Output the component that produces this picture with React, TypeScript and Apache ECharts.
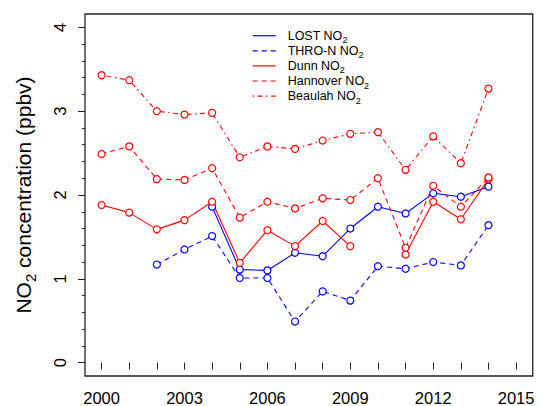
import React, { useEffect, useRef } from "react";
import * as echarts from "echarts";

const years = [2000, 2001, 2002, 2003, 2004, 2005, 2006, 2007, 2008, 2009, 2010, 2011, 2012, 2013, 2014];
const lost = [null, null, null, null, 1.86, 1.11, 1.10, 1.31, 1.27, 1.60, 1.86, 1.78, 2.02, 1.98, 2.10];
const thron = [null, null, 1.17, 1.35, 1.51, 1.01, 1.01, 0.49, 0.85, 0.74, 1.15, 1.12, 1.20, 1.16, 1.64];
const dunn = [1.88, 1.79, 1.59, 1.70, 1.92, 1.19, 1.58, 1.39, 1.69, 1.39, null, 1.29, 1.92, 1.71, 2.19];
const hannover = [2.49, 2.58, 2.19, 2.18, 2.32, 1.73, 1.92, 1.84, 1.96, 1.94, 2.20, 1.37, 2.11, 1.86, 2.21];
const beaulah = [3.43, 3.37, 3.00, 2.96, 2.98, 2.45, 2.58, 2.55, 2.65, 2.73, 2.75, 2.30, 2.70, 2.38, 3.27];

const seriesNames = ["LOST", "THRO-N", "Dunn", "Hannover", "Beaulah"];
const seriesValues = [lost, thron, dunn, hannover, beaulah];
const seriesColors = ["#0000ff", "#0000ff", "#ff0000", "#ff0000", "#ff0000"];
const dashed = [5, 4];
const dotDash = [1.5, 3.5, 5, 3.5];
const seriesDash: any[] = ["solid", dashed, "solid", dashed, dotDash];

const xTicks = [2000, 2001, 2002, 2003, 2004, 2005, 2006, 2007, 2008, 2009, 2010, 2011, 2012, 2013, 2014, 2015];
const xLabels = [2000, 2003, 2006, 2009, 2012, 2015];
const yTicks = [0, 1, 2, 3, 4];
const yMinorTicks = [0, 0.2, 0.4, 0.6, 0.8, 1, 1.2, 1.4, 1.6, 1.8, 2, 2.2, 2.4, 2.6, 2.8, 3, 3.2, 3.4, 3.6, 3.8, 4];

const FONT = "'Liberation Sans', Arial, Helvetica, sans-serif";

export default function App() {
  const ref = useRef<HTMLDivElement>(null);
  useEffect(() => {
    if (!ref.current) return;
    const chart = echarts.init(ref.current, null, { renderer: "svg" });

    const legendX1 = 252.7;
    const legendX2 = 275.7;
    const legendTextX = 287.7;
    const legendY0 = 35.7;
    const legendStep = 15.1;
    const legendGraphics: any[] = [];
    seriesNames.forEach((name, i) => {
      const y = legendY0 + i * legendStep;
      const dash = seriesDash[i];
      legendGraphics.push({
        type: "line",
        shape: { x1: legendX1, y1: y, x2: legendX2, y2: y },
        style: {
          stroke: seriesColors[i],
          lineWidth: 1.2,
          lineDash: Array.isArray(dash) ? dash : null,
        },
      });
      legendGraphics.push({
        type: "text",
        x: legendTextX,
        y: y,
        style: {
          text: name + " NO{sub|2}",
          fill: "#000",
          fontSize: 12.5,
          fontFamily: FONT,
          align: "left",
          verticalAlign: "middle",
          lineHeight: 18,
          rich: {
            sub: { fontSize: 9, lineHeight: 9, verticalAlign: "bottom", fontFamily: FONT, fill: "#000" },
          },
        },
      });
    });

    const option: any = {
      animation: false,
      backgroundColor: "#fff",
      grid: {
        left: 82.5,
        top: 14,
        right: 5.3,
        bottom: 28.7,
        show: true,
        borderColor: "#222",
        borderWidth: 1.3,
        backgroundColor: "transparent",
      },
      xAxis: {
        type: "value",
        min: 1999.4,
        max: 2015.6,
        axisLine: { show: false },
        splitLine: { show: false },
        axisTick: {
          show: true,
          length: 7,
          customValues: xTicks,
          lineStyle: { color: "#222", width: 1 },
        },
        axisLabel: {
          show: true,
          customValues: xLabels,
          margin: 13,
          fontSize: 16.5,
          fontFamily: FONT,
          color: "#000",
          formatter: (v: number) => String(v),
        },
      },
      yAxis: [
        {
          type: "value",
          min: -0.16,
          max: 4.16,
          axisLine: { show: false },
          splitLine: { show: false },
          axisTick: {
            show: true,
            length: 7,
            customValues: yTicks,
            lineStyle: { color: "#222", width: 1 },
          },
          axisLabel: {
            show: true,
            customValues: yTicks,
            rotate: 90,
            margin: 17,
            fontSize: 16.5,
            fontFamily: FONT,
            color: "#000",
            formatter: (v: number) => String(v),
          },
          name: "NO{sub|2} concentration (ppbv)",
          nameLocation: "middle",
          nameGap: 47,
          nameRotate: 90,
          nameTextStyle: {
            fontSize: 21,
            fontFamily: FONT,
            color: "#000",
            lineHeight: 30,
            rich: {
              sub: { fontSize: 15, lineHeight: 15, verticalAlign: "bottom", fontFamily: FONT, color: "#000" },
            },
          },
        },
        {
          type: "value",
          min: -0.16,
          max: 4.16,
          position: "left",
          axisLine: { show: false },
          splitLine: { show: false },
          axisLabel: { show: false },
          axisTick: {
            show: true,
            length: 3,
            customValues: yMinorTicks,
            lineStyle: { color: "#222", width: 1 },
          },
        },
      ],
      series: seriesNames.map((name, i) => ({
        name: name + " NO2",
        type: "line",
        xAxisIndex: 0,
        yAxisIndex: 0,
        data: years.map((yr, j) => [yr, seriesValues[i][j]]),
        connectNulls: false,
        symbol: "circle",
        symbolSize: 7,
        showAllSymbol: true,
        lineStyle: { color: seriesColors[i], width: 1.1, type: seriesDash[i] },
        itemStyle: { color: "#fff", borderColor: seriesColors[i], borderWidth: 1.2 },
        emphasis: { disabled: true },
      })),
      graphic: legendGraphics,
    };
    chart.setOption(option);
    return () => chart.dispose();
  }, []);
  return (
    <div
      ref={ref}
      style={{ position: "fixed", left: 0, top: 0, width: 538, height: 406 }}
    />
  );
}
